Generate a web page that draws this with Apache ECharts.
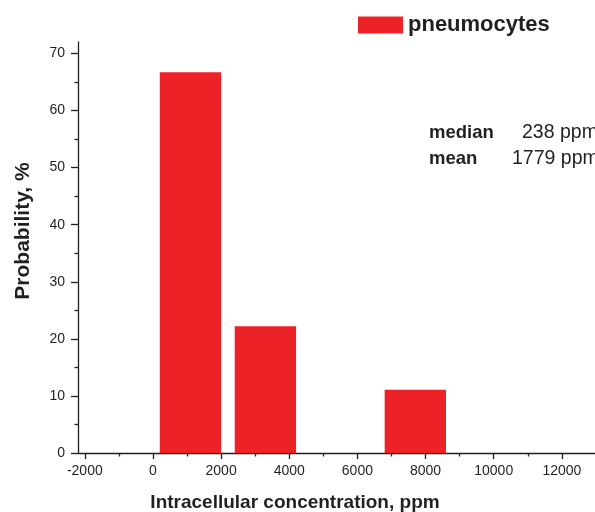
<!DOCTYPE html>
<html>
<head>
<meta charset="utf-8">
<script src="https://cdn.jsdelivr.net/npm/echarts@6/dist/echarts.min.js"></script>
<style>
  html, body { margin: 0; padding: 0; background: #fff; }
  #chart { width: 595px; height: 512px; }
</style>
</head>
<body>
<div id="chart"></div>
<script>
// Histogram of intracellular concentration (ppm) for pneumocytes
const seriesName = 'pneumocytes';
const binFrom = [200, 2400, 6800];
const binTo = [2000, 4200, 8600];
const probability = [66.7, 22.2, 11.1];

const xMajorTicks = [-2000, 0, 2000, 4000, 6000, 8000, 10000, 12000, 14000];
const xMinorTicks = [-1000, 1000, 3000, 5000, 7000, 9000, 11000, 13000];
const yMajorTicks = [0, 10, 20, 30, 40, 50, 60, 70];
const yMinorTicks = [5, 15, 25, 35, 45, 55, 65];

const statLabels = ['median', 'mean'];
const statValues = ['238 ppm', '1779 ppm'];

const BAR_COLOR = '#ed2226';
const INK = '#231f20';
const FONT = '"Liberation Sans", Arial, sans-serif';

const data = binFrom.map((f, i) => [f, binTo[i], probability[i]]);

const chart = echarts.init(document.getElementById('chart'), null, { renderer: 'canvas' });

const axisLineStyle = { color: INK, width: 1.3 };
const plain = v => String(v);

chart.setOption({
  animation: false,
  backgroundColor: '#ffffff',
  textStyle: { fontFamily: FONT },
  legend: {
    data: [seriesName],
    left: 353,
    top: 9,
    icon: 'rect',
    itemWidth: 45,
    itemHeight: 17,
    textStyle: { fontFamily: FONT, fontSize: 22, fontWeight: 'bold', color: INK }
  },
  grid: { left: 78, top: 42, bottom: 59, width: 552, outerBoundsMode: 'none', containLabel: false },
  xAxis: [
    {
      type: 'value',
      min: -2200,
      max: 14000,
      splitLine: { show: false },
      axisLine: { onZero: false, lineStyle: axisLineStyle },
      axisTick: { customValues: xMajorTicks, length: 6, lineStyle: axisLineStyle },
      axisLabel: {
        customValues: xMajorTicks, formatter: plain,
        color: INK, fontSize: 14, fontFamily: FONT, margin: 11
      }
    },
    {
      type: 'value',
      position: 'bottom',
      min: -2200,
      max: 14000,
      splitLine: { show: false },
      axisLine: { show: false, onZero: false },
      axisTick: { customValues: xMinorTicks, length: 3.5, lineStyle: axisLineStyle },
      axisLabel: { show: false }
    }
  ],
  yAxis: [
    {
      type: 'value',
      min: 0,
      max: 72,
      splitLine: { show: false },
      axisLine: { show: true, onZero: false, lineStyle: axisLineStyle },
      axisTick: { show: true, customValues: yMajorTicks, length: 7, lineStyle: axisLineStyle },
      axisLabel: {
        customValues: yMajorTicks, formatter: plain,
        color: INK, fontSize: 14, fontFamily: FONT, margin: 13
      }
    },
    {
      type: 'value',
      position: 'left',
      min: 0,
      max: 72,
      splitLine: { show: false },
      axisLine: { show: false, onZero: false },
      axisTick: { show: true, customValues: yMinorTicks, length: 3.5, lineStyle: axisLineStyle },
      axisLabel: { show: false }
    }
  ],
  series: [
    {
      name: seriesName,
      type: 'custom',
      xAxisIndex: 0,
      yAxisIndex: 0,
      itemStyle: { color: BAR_COLOR },
      encode: { x: [0, 1], y: 2 },
      data: data,
      renderItem: function (params, api) {
        const left = api.coord([api.value(0), api.value(2)]);
        const right = api.coord([api.value(1), 0]);
        return {
          type: 'rect',
          shape: { x: left[0], y: left[1], width: right[0] - left[0], height: right[1] - left[1] },
          style: { fill: BAR_COLOR }
        };
      }
    }
  ],
  graphic: [
    {
      type: 'text', x: 23, y: 231, rotation: Math.PI / 2,
      style: {
        text: 'Probability, %', font: 'bold 21px ' + FONT, fill: INK,
        textAlign: 'center', textVerticalAlign: 'middle'
      }
    },
    {
      type: 'text', x: 295, y: 503,
      style: {
        text: 'Intracellular concentration, ppm', font: 'bold 19px ' + FONT, fill: INK,
        textAlign: 'center', textVerticalAlign: 'middle'
      }
    },
    {
      type: 'text', x: 429, y: 133,
      style: { text: statLabels[0], font: 'bold 18.5px ' + FONT, fill: INK, textVerticalAlign: 'middle' }
    },
    {
      type: 'text', x: 522, y: 133,
      style: { text: statValues[0], font: '19.5px ' + FONT, fill: INK, textVerticalAlign: 'middle' }
    },
    {
      type: 'text', x: 429, y: 159,
      style: { text: statLabels[1], font: 'bold 18.5px ' + FONT, fill: INK, textVerticalAlign: 'middle' }
    },
    {
      type: 'text', x: 512, y: 159,
      style: { text: statValues[1], font: '19.5px ' + FONT, fill: INK, textVerticalAlign: 'middle' }
    }
  ]
});
</script>
</body>
</html>
